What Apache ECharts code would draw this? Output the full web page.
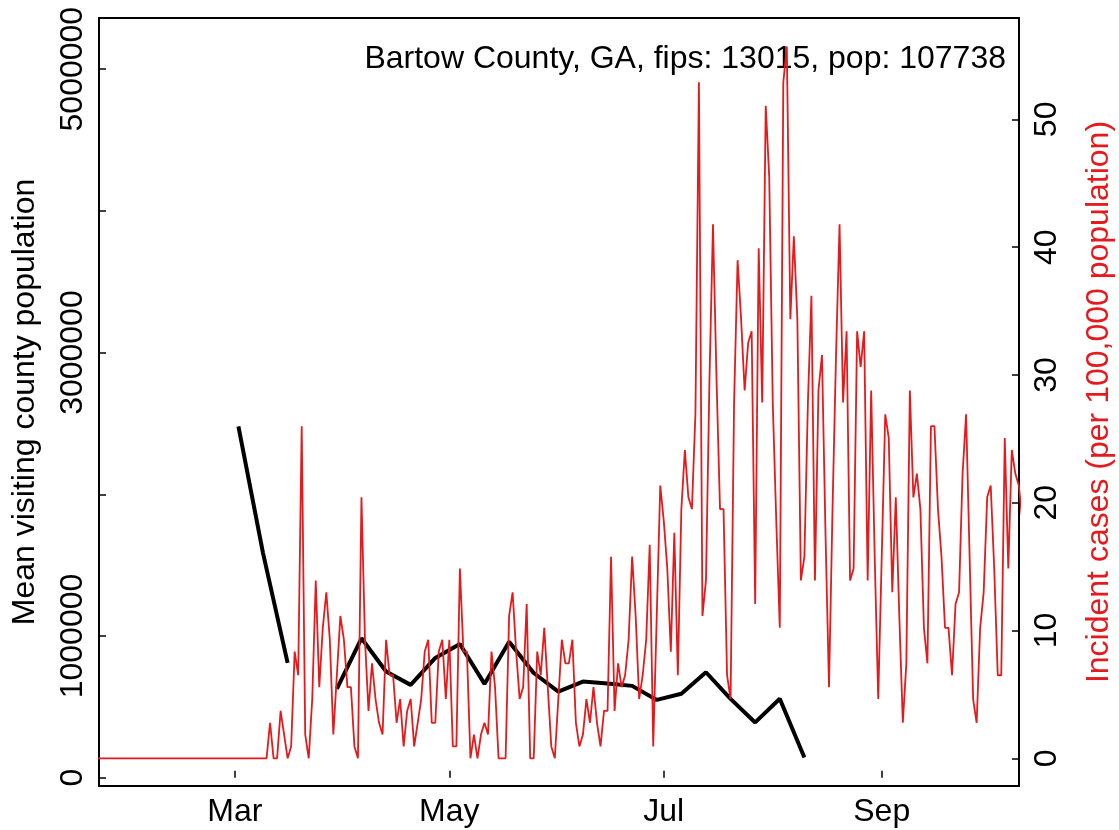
<!DOCTYPE html>
<html>
<head>
<meta charset="utf-8">
<script src="https://cdn.jsdelivr.net/npm/echarts@6/dist/echarts.min.js"></script>
<style>
  html, body { margin: 0; padding: 0; background: #fff; }
  #chart { width: 1119px; height: 830px; }
</style>
</head>
<body>
<div id="chart"></div>
<script>
// ---------------- DATA ----------------
const titleText = 'Bartow County, GA, fips: 13015, pop: 107738';
const leftAxisTitle = 'Mean visiting county population';
const rightAxisTitle = 'Incident cases (per 100,000 population)';

// x-axis tick dates and labels
const xTickDates = ['2020-03-01', '2020-05-01', '2020-07-01', '2020-09-01'];
const xTickLabels = ['Mar', 'May', 'Jul', 'Sep'];

// left axis ticks / labels (R drops overlapping labels)
const leftTickValues = [0, 1000000, 2000000, 3000000, 4000000, 5000000];
const leftLabelValues = [0, 1000000, 3000000, 5000000];
// right axis ticks
const rightTickValues = [0, 10, 20, 30, 40, 50];

// weekly mean visiting county population (black line)
const visitDates = ['2020-03-02', '2020-03-09', '2020-03-16', '2020-03-23', '2020-03-30',
  '2020-04-06', '2020-04-13', '2020-04-20', '2020-04-27', '2020-05-04', '2020-05-11',
  '2020-05-18', '2020-05-25', '2020-06-01', '2020-06-08', '2020-06-15', '2020-06-22',
  '2020-06-29', '2020-07-06', '2020-07-13', '2020-07-20', '2020-07-27', '2020-08-03',
  '2020-08-10'];
const visitValues = [2480000, 1585000, 810000, null, 627000,
  984000, 749000, 655000, 845000, 944000, 662000,
  960000, 739000, 608000, 678000, 665000, 648000,
  549000, 592000, 744000, 556000, 390000, 557000,
  142000];

// daily incident cases per 100k (red line), consecutive days from this start date
const caseStartDate = '2020-01-22';
const incidentCases = [
  0,0,0,0,0,0,0,0,0,0, 0,0,0,0,0,0,0,0,0,0,
  0,0,0,0,0,0,0,0,0,0, 0,0,0,0,0,0,0,0,0,0,
  0,0,0,0,0,0,0,0,0,
  2.78, 0, 0, 3.71, 1.86, 0, 0.93, 8.35, 6.5, 25.99,
  1.86, 0, 4.64, 13.92, 5.57, 10.21, 12.99, 9.28, 1.86, 6.5,
  11.14, 9.28, 5.57, 5.57, 0.93, 0, 20.42, 9.28, 3.71, 7.43,
  4.64, 2.78, 1.86, 9.28, 6.5, 6.5, 2.78, 4.64, 0.93, 3.71,
  4.64, 0.93, 2.78, 4.64, 8.35, 9.28, 2.78, 2.78, 8.35, 9.28,
  4.64, 9.28, 0.93, 0.93, 14.85, 8.35, 8.35, 0, 1.86, 0,
  1.86, 2.78, 1.86, 8.35, 5.57, 0, 0, 0, 11.14, 12.99,
  8.35, 4.64, 5.57, 12.07, 0, 0, 8.35, 6.5, 10.21, 5.57,
  0.93, 0, 4.64, 9.28, 7.43, 7.43, 9.28, 2.78, 0.93, 1.86,
  4.64, 2.78, 5.57, 2.78, 0.93, 3.71, 3.71, 15.78, 3.71, 7.43,
  5.57, 6.5, 9.28, 15.78, 11.14, 4.64, 6.5, 9.28, 16.71, 0.93,
  11.14, 21.35, 18.57, 14.85, 8.35, 17.64, 6.5, 19.5, 24.13, 20.42,
  19.5, 26.92, 52.9, 11.14, 13.92, 29.7, 41.78, 29.7, 19.5, 19.5,
  6.5, 4.64, 27.85, 38.98, 34.35, 28.78, 32.49, 33.41, 12.07, 39.91,
  27.85, 51.06, 45.48, 27.85, 18.57, 10.21, 52.9, 55.69, 34.35, 40.84,
  34.35, 13.92, 15.78, 27.85, 36.2, 13.92, 28.78, 31.56, 17.64, 5.57,
  19.5, 31.56, 41.78, 27.85, 33.41, 13.92, 14.85, 33.41, 30.63, 33.41,
  13.92, 28.78, 15.78, 4.64, 15.78, 26.92, 25.06, 12.99, 20.42, 11.14,
  2.78, 7.43, 28.78, 20.42, 22.28, 19.5, 10.21, 7.43, 25.99, 25.99,
  19.5, 15.78, 10.21, 10.21, 6.5, 12.07, 12.99, 22.28, 26.92, 15.78,
  4.64, 2.78, 10.21, 12.99, 20.42, 21.35, 14.85, 6.5, 6.5, 25.06,
  14.85, 24.13, 22.28, 21.35, 18.57
];

// ---------------- BUILD ----------------
const DAY = 86400000;
function ts(s) { const p = s.split('-').map(Number); return Date.UTC(p[0], p[1] - 1, p[2]); }
const caseStart = ts(caseStartDate);
const caseData = incidentCases.map((v, i) => [caseStart + i * DAY, v]);
const visitData = visitDates.map((d, i) => [ts(d), visitValues[i]]);
const xTickTimes = xTickDates.map(ts);

const mar1 = ts('2020-03-01');
const xMin = mar1 - 38.66 * DAY;
const xMax = mar1 + 223.05 * DAY;

const FONT = 'Liberation Sans, Arial, sans-serif';
const FS = 32;

const chart = echarts.init(document.getElementById('chart'), null, { renderer: 'canvas' });
chart.setOption({
  animation: false,
  backgroundColor: '#ffffff',
  textStyle: { fontFamily: FONT },
  grid: {
    left: 99, right: 100, top: 18, bottom: 44,
    containLabel: false, outerBoundsMode: 'none',
    show: true, borderColor: '#000', borderWidth: 2, backgroundColor: 'transparent'
  },
  graphic: [{
    type: 'text', right: 1119 - 1006, top: 43,
    style: { text: titleText, font: FS + 'px ' + FONT, fill: '#000' }
  }],
  xAxis: {
    type: 'value', min: xMin, max: xMax,
    splitLine: { show: false },
    axisLine: { show: false },
    axisTick: { show: true, inside: true, length: 7, lineStyle: { color: '#000', width: 1.5 }, customValues: xTickTimes },
    axisLabel: {
      customValues: xTickTimes,
      color: '#000', fontSize: FS, fontFamily: FONT, margin: 10,
      formatter: function (v) { const i = xTickTimes.indexOf(v); return i >= 0 ? xTickLabels[i] : ''; }
    }
  },
  yAxis: [{
    type: 'value', position: 'left',
    min: -58600, max: 5361000,
    splitLine: { show: false },
    axisLine: { show: false },
    axisTick: { show: true, inside: true, length: 7, lineStyle: { color: '#000', width: 1.5 }, customValues: leftTickValues },
    axisLabel: {
      customValues: leftLabelValues, rotate: 90, color: '#000', fontSize: FS, fontFamily: FONT, margin: 10,
      formatter: function (v) { return String(Math.round(v)); }
    },
    name: leftAxisTitle, nameLocation: 'middle', nameRotate: 90, nameGap: 58,
    nameTextStyle: { color: '#000', fontSize: FS, fontFamily: FONT }
  }, {
    type: 'value', position: 'right',
    min: -2.167, max: 57.93,
    splitLine: { show: false },
    axisLine: { show: false },
    axisTick: { show: true, inside: true, length: 7, lineStyle: { color: '#000', width: 1.5 }, customValues: rightTickValues },
    axisLabel: {
      customValues: rightTickValues, rotate: 90, color: '#000', fontSize: FS, fontFamily: FONT, margin: 12,
      formatter: function (v) { return String(Math.round(v)); }
    },
    name: rightAxisTitle, nameLocation: 'middle', nameRotate: 90, nameGap: 64,
    nameTextStyle: { color: '#E41A1C', fontSize: FS, fontFamily: FONT }
  }],
  series: [{
    type: 'line', name: 'visits', yAxisIndex: 0, data: visitData,
    showSymbol: false, symbol: 'none', connectNulls: false, clip: true,
    lineStyle: { color: '#000', width: 4 }, z: 2
  }, {
    type: 'line', name: 'cases', yAxisIndex: 1, data: caseData,
    showSymbol: false, symbol: 'none', clip: true,
    lineStyle: { color: '#E41A1C', width: 1.8 }, z: 3
  }]
});
</script>
</body>
</html>
